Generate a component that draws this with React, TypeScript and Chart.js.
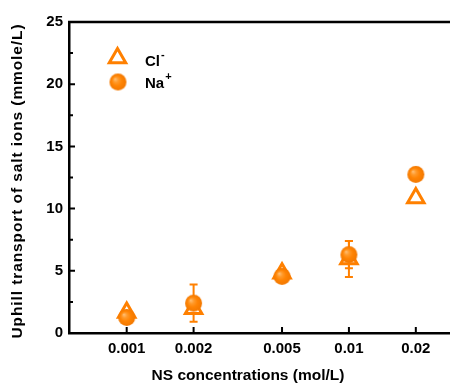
import React, { useEffect, useRef } from 'react';
import { Chart, registerables } from 'chart.js';

Chart.register(...registerables);

const concentrations = [0.001, 0.002, 0.005, 0.01, 0.02];
const concLabels = ['0.001', '0.002', '0.005', '0.01', '0.02'];
const clValues = [1.65, 1.95, 4.8, 5.95, 10.85];
const clErrors = [0, 0, 0, 1.45, 0];
const naValues = [1.25, 2.4, 4.55, 6.3, 12.75];
const naErrors = [0, 1.5, 0, 1.1, 0];
const yMajorTicks = [0, 5, 10, 15, 20, 25];
const yMinorTicks = [2.5, 7.5, 12.5, 17.5, 22.5];
const X_MIN = 0.00055;
const X_MAX = 0.0285;

const ORANGE = '#FF8000';
const FONT = '"Liberation Sans", Arial, sans-serif';
const X_TITLE = 'NS concentrations (mol/L)';
const Y_TITLE = 'Uphill transport of salt ions (mmole/L)';

function makeBall(r: number): HTMLCanvasElement {
  const size = Math.ceil(r * 2 + 2);
  const c = document.createElement('canvas');
  c.width = size;
  c.height = size;
  const g = c.getContext('2d')!;
  const cx = size / 2;
  const cy = size / 2;
  const grad = g.createRadialGradient(cx - r * 0.35, cy - r * 0.35, 0, cx, cy, r);
  grad.addColorStop(0, '#FFC27A');
  grad.addColorStop(0.3, '#FF9A2A');
  grad.addColorStop(0.6, '#FF8404');
  grad.addColorStop(1, '#F27800');
  g.fillStyle = grad;
  g.beginPath();
  g.arc(cx, cy, r, 0, Math.PI * 2);
  g.fill();
  return c;
}

function drawTriangle(ctx: CanvasRenderingContext2D, x: number, y: number, r: number) {
  ctx.beginPath();
  let rad = 0;
  ctx.moveTo(x + Math.sin(rad) * r, y - Math.cos(rad) * r);
  rad += (2 * Math.PI) / 3;
  ctx.lineTo(x + Math.sin(rad) * r, y - Math.cos(rad) * r);
  rad += (2 * Math.PI) / 3;
  ctx.lineTo(x + Math.sin(rad) * r, y - Math.cos(rad) * r);
  ctx.closePath();
  ctx.fillStyle = '#FFFFFF';
  ctx.fill();
  ctx.lineWidth = 3;
  ctx.strokeStyle = ORANGE;
  ctx.lineJoin = 'miter';
  ctx.stroke();
}

export default function App() {
  const ref = useRef<HTMLCanvasElement | null>(null);

  useEffect(() => {
    if (!ref.current) return;
    const ball = makeBall(8.5);

    const decor = {
      id: 'decor',
      beforeDatasetsDraw(chart: any) {
        const ctx = chart.ctx as CanvasRenderingContext2D;
        const xs = chart.scales.x;
        const ys = chart.scales.y;
        const sets = [
          { vals: naValues, errs: naErrors },
          { vals: clValues, errs: clErrors },
        ];
        ctx.save();
        ctx.strokeStyle = ORANGE;
        ctx.lineWidth = 2;
        sets.forEach((s) => {
          concentrations.forEach((c, i) => {
            const e = s.errs[i];
            if (!e) return;
            const px = xs.getPixelForValue(c);
            const top = ys.getPixelForValue(s.vals[i] + e);
            const bot = ys.getPixelForValue(s.vals[i] - e);
            ctx.beginPath();
            ctx.moveTo(px, top);
            ctx.lineTo(px, bot);
            ctx.moveTo(px - 4, top);
            ctx.lineTo(px + 4, top);
            ctx.moveTo(px - 4, bot);
            ctx.lineTo(px + 4, bot);
            ctx.stroke();
          });
        });
        ctx.restore();
      },
      afterDraw(chart: any) {
        const ctx = chart.ctx as CanvasRenderingContext2D;
        const area = chart.chartArea;
        const xs = chart.scales.x;
        const ys = chart.scales.y;
        ctx.save();
        // top frame line
        ctx.strokeStyle = '#000';
        ctx.lineWidth = 2.5;
        ctx.beginPath();
        ctx.moveTo(area.left - 1, area.top);
        ctx.lineTo(area.right, area.top);
        ctx.stroke();
        // ticks
        ctx.lineWidth = 2;
        ctx.beginPath();
        yMajorTicks.forEach((v) => {
          const py = ys.getPixelForValue(v);
          ctx.moveTo(area.left, py);
          ctx.lineTo(area.left + 6, py);
        });
        yMinorTicks.forEach((v) => {
          const py = ys.getPixelForValue(v);
          ctx.moveTo(area.left, py);
          ctx.lineTo(area.left + 4, py);
        });
        concentrations.forEach((v) => {
          const px = xs.getPixelForValue(v);
          ctx.moveTo(px, area.bottom);
          ctx.lineTo(px, area.bottom - 6);
        });
        ctx.stroke();
        // x tick labels
        ctx.fillStyle = '#000';
        ctx.font = `bold 15px ${FONT}`;
        ctx.textAlign = 'center';
        ctx.textBaseline = 'middle';
        concentrations.forEach((v, i) => {
          ctx.fillText(concLabels[i], xs.getPixelForValue(v), area.bottom + 16);
        });
        // titles
        ctx.font = `bold 15.5px ${FONT}`;
        ctx.fillText(X_TITLE, 248, 376);
        ctx.save();
        ctx.translate(18, 181);
        ctx.rotate(-Math.PI / 2);
        (ctx as any).letterSpacing = '0.9px';
        ctx.fillText(Y_TITLE, 0, 0);
        (ctx as any).letterSpacing = '0px';
        ctx.restore();
        // legend
        drawTriangle(ctx, 117.5, 58, 9.5);
        ctx.drawImage(ball, 118 - ball.width / 2, 82 - ball.height / 2);
        ctx.fillStyle = '#000';
        ctx.textAlign = 'left';
        ctx.textBaseline = 'alphabetic';
        ctx.font = `bold 15px ${FONT}`;
        ctx.fillText('Cl', 145, 66);
        const clW = ctx.measureText('Cl').width;
        ctx.fillText('Na', 145, 88);
        const naW = ctx.measureText('Na').width;
        ctx.font = `bold 11px ${FONT}`;
        ctx.fillText('-', 145 + clW + 1, 58);
        ctx.fillText('+', 145 + naW + 1, 80);
        ctx.restore();
      },
    };

    const chart = new Chart(ref.current, {
      type: 'scatter',
      data: {
        datasets: [
          {
            label: 'Na+',
            data: concentrations.map((c, i) => ({ x: c, y: naValues[i] })),
            pointStyle: ball as any,
            pointRadius: 8.5,
            showLine: false,
          },
          {
            label: 'Cl-',
            data: concentrations.map((c, i) => ({ x: c, y: clValues[i] })),
            pointStyle: 'triangle',
            pointRadius: 9.5,
            pointBorderWidth: 3,
            pointBorderColor: ORANGE,
            pointBackgroundColor: '#FFFFFF',
            showLine: false,
          },
        ],
      },
      options: {
        animation: false,
        responsive: true,
        maintainAspectRatio: false,
        layout: { autoPadding: false, padding: { top: 22, left: 0, right: 0, bottom: 0 } },
        plugins: {
          legend: { display: false },
          tooltip: { enabled: false },
        },
        scales: {
          x: {
            type: 'logarithmic',
            min: X_MIN,
            max: X_MAX,
            grid: { display: false, drawTicks: false },
            border: { display: true, color: '#000', width: 2.5 },
            afterBuildTicks: (scale: any) => {
              scale.ticks = concentrations.map((v) => ({ value: v }));
            },
            afterFit: (scale: any) => {
              scale.height = 52;
              scale.paddingLeft = 0;
              scale.paddingRight = 0;
            },
            ticks: { display: false },
          },
          y: {
            min: 0,
            max: 25,
            grid: { display: false, drawTicks: false },
            border: { display: true, color: '#000', width: 2.5 },
            afterBuildTicks: (scale: any) => {
              scale.ticks = yMajorTicks.map((v) => ({ value: v }));
            },
            afterFit: (scale: any) => {
              scale.width = 69;
              scale.paddingTop = 0;
              scale.paddingBottom = 0;
            },
            ticks: {
              padding: 6,
              color: '#000',
              font: { family: FONT, size: 15, weight: 'bold' },
            },
          },
        },
      } as any,
      plugins: [decor],
    });

    return () => chart.destroy();
  }, []);

  return (
    <div style={{ position: 'absolute', left: 0, top: 0, width: 450, height: 385, background: '#fff' }}>
      <canvas ref={ref} />
    </div>
  );
}
